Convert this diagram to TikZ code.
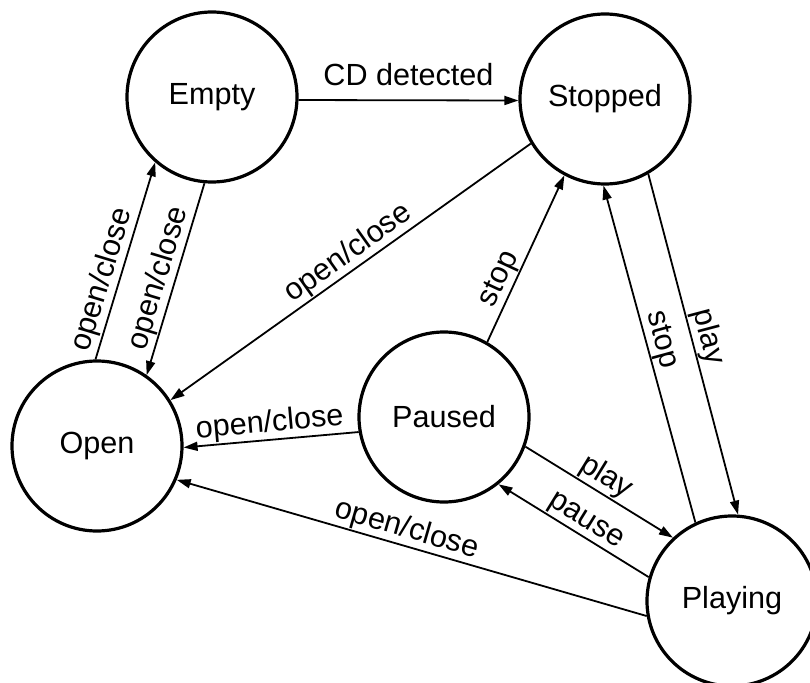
\documentclass[tikz,border=0pt]{standalone}
\usepackage{fontspec}
\setmainfont{Liberation Sans}
\usepackage{tikz}
\usetikzlibrary{automata,positioning,arrows.meta}

\begin{document}
\begin{tikzpicture}[->, >={Triangle[length=7pt,width=4.5pt]}, x=0.5pt, y=0.5pt,
		font=\fontsize{15.3}{18}\selectfont,
		every state/.style={draw, line width=1.6pt, minimum size=85pt, inner sep=0pt},
		every edge/.style={draw, line width=0.9pt},
		lbl/.style={sloped, above, inner sep=0.5pt}]
		\useasboundingbox (0,0) rectangle (810,682);

		\node[state] (empty) at (212,585) {Empty};
		\node[state] (stopped) at (605,583) {Stopped};
		\node[state] (open) at (97,236) {Open};
		\node[state] (paused) at (444,265) {Paused};
		\node[state] (playing) at (732,81) {Playing};

		\path (empty.358) edge node[above=7pt, inner sep=0pt] {CD detected} (stopped.181);
		\path (stopped.211) edge node[lbl, pos=0.48] {open/close} (open.32);
		\path (paused.190) edge node[lbl, pos=0.5] {open/close} (open.359);
		\path (playing.190) edge node[lbl, pos=0.52] {open/close} (open.337);
		\path (open.91) edge node[lbl, pos=0.38] {open/close} (empty.229);
		\path (empty.265) edge node[lbl, pos=0.52] {open/close} (open.55);
		\path (paused.60) edge node[lbl, pos=0.34] {stop} (stopped.242);
		\path (playing.115) edge node[lbl, pos=0.53] {stop} (stopped.269);
		\path (stopped.300) edge node[lbl, pos=0.49] {play} (playing.86);
		\path (paused.340) edge node[lbl, pos=0.49] {play} (playing.133);
		\path (playing.164) edge node[lbl, pos=0.47] {pause} (paused.309);
	\end{tikzpicture}
\end{document}
